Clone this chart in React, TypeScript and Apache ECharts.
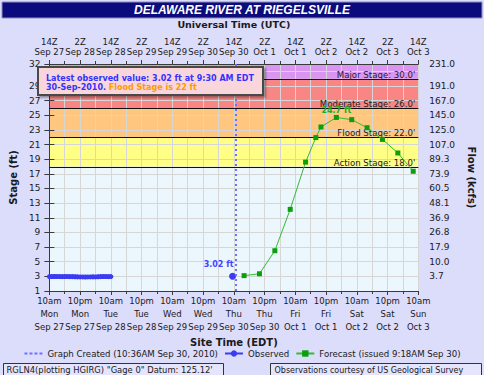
import React, { useEffect, useRef } from "react";
import * as echarts from "echarts";

// ---------- data ----------
const chartTitle = "DELAWARE RIVER AT RIEGELSVILLE";

// x values are hours after 10am EDT Mon Sep 27 2010
const xMin = 0;
const xMax = 144;
const xStep = 12;

const bottomTickLabels = [
  "10am\nMon\nSep 27", "10pm\nMon\nSep 27", "10am\nTue\nSep 28", "10pm\nTue\nSep 28",
  "10am\nWed\nSep 29", "10pm\nWed\nSep 29", "10am\nThu\nSep 30", "10pm\nThu\nSep 30",
  "10am\nFri\nOct 1", "10pm\nFri\nOct 1", "10am\nSat\nOct 2", "10pm\nSat\nOct 2", "10am\nSun\nOct 3",
];
const topTickLabels = [
  "14Z\nSep 27", "2Z\nSep 28", "14Z\nSep 28", "2Z\nSep 29", "14Z\nSep 29", "2Z\nSep 30",
  "14Z\nSep 30", "2Z\nOct 1", "14Z\nOct 1", "2Z\nOct 2", "14Z\nOct 2", "2Z\nOct 3", "14Z\nOct 3",
];

const stageMin = 1;
const stageMax = 32;
const stageStep = 2;
// stage tick values and the matching flow (kcfs) labels of the right axis
const stageTickValues = [1, 3, 5, 7, 9, 11, 13, 15, 17, 19, 21, 23, 25, 27, 29, 31, 32];
const flowTickLabels = ["", "3.7", "10.0", "17.9", "26.8", "36.9", "48.1", "60.5", "73.9", "89.3", "107.0", "125.0", "145.0", "167.0", "191.0", "217.0", "231.0"];

const stageNames = ["Action Stage", "Flood Stage", "Moderate Stage", "Major Stage"];
const stageLevels = [18, 22, 26, 30];

const observedHours = [0, 1, 2, 3, 4, 5, 6, 7, 8, 9, 10, 11, 12, 13, 14, 15, 16, 17, 18, 19, 20, 21, 22, 23, 24];
const observedStage = [2.97, 2.97, 2.98, 2.97, 2.97, 2.96, 2.97, 2.97, 2.96, 2.96, 2.95, 2.93, 2.92, 2.92, 2.91, 2.92, 2.92, 2.93, 2.92, 2.95, 2.96, 2.97, 2.97, 2.96, 2.97];
const latestObservedHour = 71.5; // 9:30 AM Sep 30
const latestObservedStage = 3.02;

const graphCreatedHour = 72.6; // 10:36 AM Sep 30

const forecastHours = [76, 82, 88, 94, 100, 104, 106, 112, 118, 124, 130, 136, 142];
const forecastStage = [3.1, 3.35, 6.5, 12.15, 18.6, 21.95, 23.4, 24.7, 24.4, 23.3, 21.7, 19.85, 17.35];

const legendNames = ["Graph Created", "Observed", "Forecast"];
const legendLabels = ["Graph Created (10:36AM Sep 30, 2010)", "Observed", "Forecast (issued 9:18AM Sep 30)"];

// ---------- styles ----------
const FONT = '"DejaVu Sans", Verdana, sans-serif';
const bandColors = ["#ecf7fd", "#ffff86", "#ffc680", "#f98585", "#d996f1"];
const gridColor = "#d6d6d6";
const axisColor = "#3a3a3a";
const textColor = "#1a1a1a";

const bandBounds = [stageMin, ...stageLevels, stageMax];
const bandData = bandBounds.slice(0, -1).map((lo, i) => [lo, bandBounds[i + 1]]);

const flowMap: Record<number, string> = {};
stageTickValues.forEach((v, i) => (flowMap[v] = flowTickLabels[i]));

const crestIdx = forecastStage.indexOf(Math.max(...forecastStage));

const observedData: any[] = observedHours.map((h, i) => [h, observedStage[i]]);
observedData.push([48, null]);
observedData.push({
  value: [latestObservedHour, latestObservedStage],
  symbolSize: 7,
  label: {
    show: true,
    position: "top",
    offset: [-14, 1],
    formatter: `${latestObservedStage.toFixed(2)} ft`,
    color: "#4444ff",
    fontWeight: "bold",
    fontSize: 8,
    fontFamily: FONT,
  },
});

const forecastData: any[] = forecastHours.map((h, i) =>
  i === crestIdx
    ? {
        value: [h, forecastStage[i]],
        label: {
          show: true,
          position: "top",
          distance: 0,
          formatter: `${forecastStage[i]} ft`,
          color: "#22aa22",
          fontWeight: "bold",
          fontSize: 8,
          fontFamily: FONT,
        },
      }
    : [h, forecastStage[i]]
);

const option: any = {
  animation: false,
  backgroundColor: "#dcdcfb",
  textStyle: { fontFamily: FONT },
  title: {
    text: chartTitle,
    left: "center",
    top: 3,
    padding: 0,
    textStyle: {
      color: "#ffffff",
      fontFamily: '"Liberation Sans", Arial, sans-serif',
      fontStyle: "italic",
      fontWeight: "bold",
      fontSize: 12,
      lineHeight: 14,
    },
  },
  grid: { left: 35, right: 49, top: 64, bottom: 84 },
  legend: {
    data: [
      { name: legendNames[0], itemStyle: { opacity: 0 } },
      { name: legendNames[1] },
      { name: legendNames[2] },
    ],
    formatter: (name: string) => legendLabels[legendNames.indexOf(name)] ?? name,
    left: "center",
    top: 344,
    itemWidth: 18,
    itemHeight: 8,
    itemGap: 6,
    textStyle: { fontSize: 8.6, color: textColor, fontFamily: FONT },
  },
  xAxis: [
    {
      type: "value",
      position: "bottom",
      min: xMin,
      max: xMax,
      interval: xStep,
      name: "Site Time (EDT)",
      nameLocation: "middle",
      nameGap: 38,
      nameTextStyle: { fontWeight: "bold", fontSize: 10, color: textColor, fontFamily: FONT },
      axisLine: { show: true, lineStyle: { color: axisColor } },
      axisTick: { show: true, length: 4, lineStyle: { color: axisColor } },
      minorTick: { show: true, splitNumber: 2, length: 3, lineStyle: { color: axisColor } },
      axisLabel: {
        formatter: (v: number) => bottomTickLabels[Math.round(v / xStep)] ?? "",
        showMinLabel: true,
        showMaxLabel: true,
        hideOverlap: false,
        fontSize: 8.5,
        lineHeight: 13,
        margin: 3,
        color: textColor,
        fontFamily: FONT,
      },
      splitLine: { show: true, lineStyle: { color: gridColor } },
      minorSplitLine: { show: true, lineStyle: { color: gridColor } },
    },
    {
      type: "value",
      position: "top",
      min: xMin,
      max: xMax,
      interval: xStep,
      name: "Universal Time (UTC)",
      nameLocation: "middle",
      nameGap: 35,
      nameTextStyle: { fontWeight: "bold", fontSize: 9.5, color: textColor, fontFamily: FONT },
      axisLine: { show: true, lineStyle: { color: axisColor } },
      axisTick: { show: true, length: 4, lineStyle: { color: axisColor } },
      minorTick: { show: true, splitNumber: 2, length: 3, lineStyle: { color: axisColor } },
      axisLabel: {
        formatter: (v: number) => topTickLabels[Math.round(v / xStep)] ?? "",
        showMinLabel: true,
        showMaxLabel: true,
        hideOverlap: false,
        fontSize: 8.5,
        lineHeight: 10,
        margin: 7,
        color: textColor,
        fontFamily: FONT,
      },
      splitLine: { show: false },
    },
  ],
  yAxis: [
    {
      type: "value",
      position: "left",
      min: stageMin,
      max: stageMax,
      interval: stageStep,
      name: "Stage (ft)",
      nameLocation: "middle",
      nameGap: 25,
      nameTextStyle: { fontWeight: "bold", fontSize: 10, color: textColor, fontFamily: FONT },
      axisLine: { show: true, lineStyle: { color: axisColor } },
      axisTick: { show: true, length: 5, lineStyle: { color: axisColor } },
      axisLabel: { fontSize: 9, margin: 9, color: textColor, fontFamily: FONT, showMinLabel: true, showMaxLabel: true },
      splitLine: { show: true, lineStyle: { color: gridColor } },
    },
    {
      type: "value",
      position: "right",
      min: stageMin,
      max: stageMax,
      interval: stageStep,
      name: "Flow (kcfs)",
      nameLocation: "middle",
      nameRotate: -90,
      nameGap: 38,
      nameTextStyle: { fontWeight: "bold", fontSize: 10, color: textColor, fontFamily: FONT },
      axisLine: { show: true, lineStyle: { color: axisColor } },
      axisTick: { show: true, length: 5, lineStyle: { color: axisColor } },
      axisLabel: {
        formatter: (v: number) => flowMap[v] ?? "",
        fontSize: 9,
        margin: 11,
        color: textColor,
        fontFamily: FONT,
        showMinLabel: true,
        showMaxLabel: true,
      },
      splitLine: { show: false },
    },
  ],
  graphic: [
    {
      type: "rect",
      z: -10,
      shape: { x: 2, y: 2, width: 480, height: 16 },
      style: { fill: "#0b0b7e", stroke: "#8e8eb8", lineWidth: 1 },
    },
    {
      type: "rect",
      z: 100,
      shape: { x: 38, y: 67, width: 225, height: 28 },
      style: {
        fill: "#f9d6dc",
        stroke: "#4a4a4a",
        lineWidth: 2,
        shadowBlur: 2,
        shadowOffsetX: 2,
        shadowOffsetY: 2,
        shadowColor: "rgba(0,0,0,0.35)",
      },
    },
    {
      type: "text",
      z: 101,
      x: 46,
      y: 74,
      style: {
        text: "Latest observed value: 3.02 ft at 9:30 AM EDT",
        fill: "#3333ff",
        font: `bold 8px ${FONT}`,
      },
    },
    {
      type: "text",
      z: 101,
      x: 46,
      y: 83,
      style: {
        text: "{a|30-Sep-2010.} {b|Flood Stage is 22 ft}",
        font: `bold 8px ${FONT}`,
        rich: {
          a: { fill: "#3333ff", font: `bold 8px ${FONT}` },
          b: { fill: "#ff9900", font: `bold 8px ${FONT}` },
        },
      },
    },
    {
      type: "group",
      left: 3,
      top: 363,
      children: [
        {
          type: "rect",
          shape: { x: 0, y: 0, width: 220, height: 14 },
          style: { fill: "#e4e4fc", stroke: "#333", lineWidth: 1 },
        },
        {
          type: "text",
          x: 3,
          y: 2.5,
          style: { text: "RGLN4(plotting HGIRG) \"Gage 0\" Datum: 125.12'", fill: textColor, font: `8.4px ${FONT}` },
        },
      ],
    },
    {
      type: "group",
      left: 270,
      top: 363,
      children: [
        {
          type: "rect",
          shape: { x: 0, y: 0, width: 211, height: 14 },
          style: { fill: "#e4e4fc", stroke: "#333", lineWidth: 1 },
        },
        {
          type: "text",
          x: 4,
          y: 2.5,
          style: { text: "Observations courtesy of US Geological Survey", fill: textColor, font: `8px ${FONT}` },
        },
      ],
    },
  ],
  series: [
    {
      type: "custom",
      name: "bands",
      z: -1,
      silent: true,
      xAxisIndex: 0,
      yAxisIndex: 0,
      encode: { y: [0, 1] },
      renderItem: (params: any, api: any) => {
        const cs = params.coordSys;
        const lo = api.value(0);
        const hi = api.value(1);
        const yTop = api.coord([xMin, hi])[1];
        const yBot = api.coord([xMin, lo])[1];
        return {
          type: "rect",
          shape: { x: cs.x, y: yTop, width: cs.width, height: yBot - yTop },
          style: { fill: bandColors[params.dataIndex] },
        };
      },
      data: bandData,
    },
    {
      type: "custom",
      name: "stages",
      z: 3,
      silent: true,
      xAxisIndex: 0,
      yAxisIndex: 0,
      renderItem: (params: any, api: any) => {
        const cs = params.coordSys;
        const level = api.value(1);
        const y = Math.round(api.coord([xMin, level])[1]) + 0.5;
        return {
          type: "group",
          children: [
            {
              type: "line",
              shape: { x1: cs.x, y1: y, x2: cs.x + cs.width, y2: y },
              style: { stroke: "#111", lineWidth: 1 },
            },
            {
              type: "text",
              x: cs.x + cs.width - 3,
              y: y,
              style: {
                text: `${stageNames[params.dataIndex]}: ${level.toFixed(1)}'`,
                align: "right",
                verticalAlign: "bottom",
                fill: "#222",
                font: `8.6px ${FONT}`,
              },
            },
          ],
        };
      },
      data: stageLevels.map((s) => [xMin, s]),
    },
    {
      type: "line",
      name: legendNames[0],
      data: [],
      symbol: "none",
      color: "#7070ff",
      lineStyle: { type: [3, 2], color: "#7070ff", width: 1.5 },
      markLine: {
        silent: true,
        symbol: ["none", "none"],
        label: { show: false },
        lineStyle: { type: [2, 3], color: "#7070ff", width: 2 },
        data: [{ xAxis: graphCreatedHour }],
      },
    },
    {
      type: "line",
      name: legendNames[1],
      data: observedData,
      color: "#3b3bf3",
      symbol: "circle",
      symbolSize: 5,
      showSymbol: true,
      connectNulls: false,
      lineStyle: { width: 4, color: "#3b3bf3" },
      itemStyle: { color: "#3b3bf3" },
      z: 4,
    },
    {
      type: "line",
      name: legendNames[2],
      data: forecastData,
      color: "#1faa1f",
      symbol: "rect",
      symbolSize: 5,
      showSymbol: true,
      lineStyle: { width: 1, color: "#33bb33" },
      itemStyle: { color: "#0c9f0c" },
      z: 4,
    },
  ],
};

export default function App() {
  const ref = useRef<HTMLDivElement>(null);
  useEffect(() => {
    if (!ref.current) return;
    const chart = echarts.init(ref.current, null, { renderer: "svg" });
    chart.setOption(option);
    return () => chart.dispose();
  }, []);
  return (
    <div
      ref={ref}
      style={{ position: "fixed", left: 0, top: 0, width: 484, height: 375 }}
    />
  );
}
